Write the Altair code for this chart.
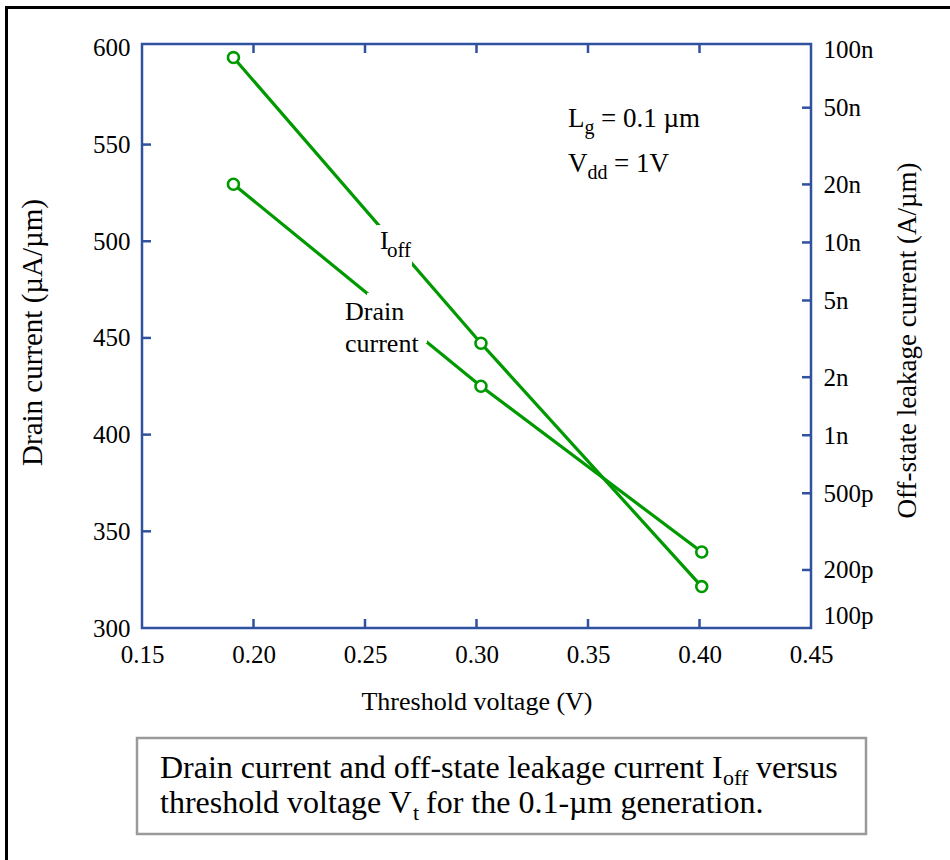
import altair as alt
import pandas as pd

# ---- data ----
vt = [0.191, 0.302, 0.401]                 # threshold voltage (V)
drain_current = [529.5, 425.0, 339.3]      # uA/um
ioff = [9.1e-8, 3.0e-9, 1.64e-10]          # A/um

x_ticks = [0.15, 0.20, 0.25, 0.30, 0.35, 0.40, 0.45]
left_ticks = [300, 350, 400, 450, 500, 550, 600]
right_ticks = [1e-10, 2e-10, 5e-10, 1e-9, 2e-9, 5e-9, 1e-8, 2e-8, 5e-8, 1e-7]
x_domain = [0.15, 0.45]
left_domain = [300, 602]
right_domain = [1e-10, 1.07e-7]

FONT = "Liberation Serif"
GREEN = "#009a00"
BLUE = "#2f519e"
W, H = 669, 584

df = pd.DataFrame({"vt": vt, "drain": drain_current, "ioff": ioff})

x_scale = alt.Scale(domain=x_domain, nice=False, zero=False)
left_scale = alt.Scale(domain=left_domain, nice=False, zero=False)
right_scale = alt.Scale(type="log", domain=right_domain, nice=False)

x_axis = alt.Axis(
    values=x_ticks, format=".2f", labelFont=FONT, labelFontSize=25,
    labelColor="black", labelPadding=14, labelFlush=False, labelOverlap=False,
    domain=False, ticks=False, grid=False,
    title="Threshold voltage (V)", titleFont=FONT, titleFontSize=26,
    titleFontWeight="normal", titleColor="black", titleY=81,
    titleBaseline="alphabetic",
)
left_axis = alt.Axis(
    orient="left", values=left_ticks, format="d", labelFont=FONT,
    labelFontSize=25, labelColor="black", labelPadding=12, labelFlush=False,
    labelOverlap=False, domain=False, ticks=False, grid=False,
    title="Drain current (µA/µm)", titleFont=FONT, titleFontSize=29,
    titleFontWeight="normal", titleColor="black", titleAngle=270,
    titleX=-101, titleY=288, titleAlign="center", titleBaseline="alphabetic",
)
right_axis = alt.Axis(
    orient="right", values=right_ticks, format="~s", labelFont=FONT,
    labelFontSize=25, labelColor="black", labelPadding=12, labelFlush=True,
    labelOverlap=False, domain=False, ticks=False, grid=False,
    title="Off-state leakage current (A/µm)", titleFont=FONT, titleFontSize=27,
    titleFontWeight="normal", titleColor="black", titleAngle=270,
    titleX=104, titleY=296, titleAlign="center", titleBaseline="alphabetic",
)


def X(field):
    return alt.X(f"{field}:Q", scale=x_scale, axis=x_axis)


one = alt.Data(values=[{}])


def label(text, x, y, size, color="black"):
    return alt.Chart(one).mark_text(
        text=text, font=FONT, fontSize=size, align="left",
        baseline="alphabetic", color=color,
    ).encode(x=alt.value(x), y=alt.value(y))


def box(x, x2, y, y2, **kw):
    return alt.Chart(one).mark_rect(**kw).encode(
        x=alt.value(x), x2=alt.value(x2), y=alt.value(y), y2=alt.value(y2)
    )


drain_line = alt.Chart(df).mark_line(color=GREEN, strokeWidth=3.2).encode(
    x=X("vt"), y=alt.Y("drain:Q", scale=left_scale, axis=left_axis)
)
ioff_line = alt.Chart(df).mark_line(color=GREEN, strokeWidth=3.2).encode(
    x=X("vt"), y=alt.Y("ioff:Q", scale=right_scale, axis=right_axis)
)
pt_style = dict(shape="circle", size=120, filled=True, fill="white",
                fillOpacity=1, stroke=GREEN, strokeWidth=2.6, opacity=1)
drain_pts = alt.Chart(df).mark_point(**pt_style).encode(
    x=X("vt"), y=alt.Y("drain:Q", scale=left_scale, axis=None)
)
ioff_pts = alt.Chart(df).mark_point(**pt_style).encode(
    x=X("vt"), y=alt.Y("ioff:Q", scale=right_scale, axis=None)
)

# inward ticks
lt = pd.DataFrame({"v": left_ticks[1:-1]})
rt = pd.DataFrame({"v": right_ticks[1:-1]})
xt = pd.DataFrame({"v": x_ticks[1:-1]})
tick_style = dict(color=BLUE, strokeWidth=2.5)
left_tk = alt.Chart(lt).mark_rule(**tick_style).encode(
    y=alt.Y("v:Q", scale=left_scale, axis=None), x=alt.value(0), x2=alt.value(9)
)
right_tk = alt.Chart(rt).mark_rule(**tick_style).encode(
    y=alt.Y("v:Q", scale=right_scale, axis=None), x=alt.value(W - 9), x2=alt.value(W)
)
top_tk = alt.Chart(xt).mark_rule(**tick_style).encode(
    x=X("v"), y=alt.value(0), y2=alt.value(9)
)
bot_tk = alt.Chart(xt).mark_rule(**tick_style).encode(
    x=X("v"), y=alt.value(H - 9), y2=alt.value(H)
)

# white backing behind in-plot curve labels
gap_ioff = box(235, 270, 181, 223, fill="white")
gap_drain = box(225, 285, 249, 299, fill="white")

annotations = [
    label("I", 238, 205, 26), label("off", 245, 213, 21),
    label("Drain", 203, 276, 26), label("current", 203, 308, 26),
    label("L", 426, 83, 27), label("g", 442.5, 90, 20), label("= 0.1 µm", 459, 83, 27),
    label("V", 426, 128, 27), label("dd", 445.5, 135, 20), label("= 1V", 472, 128, 27),
]

caption = [
    box(-5, 724, 694, 790, fill="white", stroke="#9a9a9a", strokeWidth=2.5),
    label("Drain current and off-state leakage current I", 18, 734, 32),
    label("off", 581, 741, 22),
    label("versus", 614, 734, 32),
    label("threshold voltage V", 18, 769, 32),
    label("t", 271, 776, 22),
    label("for the 0.1-µm generation.", 284, 769, 32),
]

frame = [
    alt.Chart(one).mark_rule(color="black", strokeWidth=3).encode(
        x=alt.value(-135.5), y=alt.value(-37), y2=alt.value(816)),
    alt.Chart(one).mark_rule(color="black", strokeWidth=3).encode(
        x=alt.value(-137), x2=alt.value(808), y=alt.value(-36.5)),
]

chart = alt.layer(
    drain_line, ioff_line, drain_pts, ioff_pts,
    left_tk, right_tk, top_tk, bot_tk,
    gap_ioff, gap_drain, *annotations, *caption, *frame,
).resolve_scale(y="independent").properties(
    width=W, height=H,
    autosize=alt.AutoSizeParams(type="none"),
    padding={"left": 142, "top": 44, "right": 139, "bottom": 232},
    background="white",
).configure_view(stroke=BLUE, strokeWidth=2.5)

chart.save("out.html", embed_options={"renderer": "svg", "actions": False})
